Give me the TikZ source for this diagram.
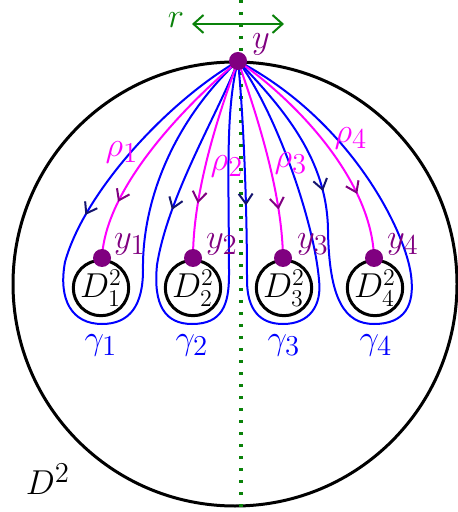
\documentclass[tikz,border=0pt]{standalone}
\usetikzlibrary{arrows.meta,decorations.markings}
\definecolor{myblue}{RGB}{0,0,255}
\definecolor{mymag}{RGB}{255,0,255}
\definecolor{mypurple}{RGB}{128,0,128}
\definecolor{mynavy}{RGB}{20,20,110}
\definecolor{mygreen}{RGB}{10,130,10}
\begin{document}
\begin{tikzpicture}[x=0.5pt,y=-0.5pt,
  lbl/.style={font=\fontsize{19}{22}\selectfont, inner sep=0pt},
  loopline/.style={myblue, line width=1pt},
  rholine/.style={mymag, line width=1pt},
  barbmark/.style 2 args={postaction={decorate}, decoration={markings,
      mark=at position #1 with {\arrow{Straight Barb[length=5pt,width=7pt,line width=1pt,color=#2]}}}},
  disk/.style={circle, draw=black, line width=1.5pt, minimum size=27pt, inner sep=0pt, font=\fontsize{18}{21}\selectfont},
  pdot/.style={circle, fill=mypurple, minimum size=9pt, inner sep=0pt}
]
\useasboundingbox (0,0) rectangle (457,512);
% big disk
\draw[black, line width=1.5pt] (235,284) circle[radius=111pt];
\node[lbl] (D) at (48,479) {$D^2$};
% vertical dotted line
\coordinate (vt) at (241,0);
\coordinate (vb) at (241,512);
\draw[mygreen, line width=1.7pt, dash pattern=on 1.7pt off 4.3pt] (vt) -- (vb);
% r arrow
\coordinate (ra) at (192,24);
\coordinate (rb) at (284,24);
\draw[mygreen, line width=1pt, {Straight Barb[length=5pt,width=9pt]}-{Straight Barb[length=5pt,width=9pt]}] (ra) -- (rb);
\node[lbl, text=mygreen] (rl) at (176,20) {$r$};
% base point
\coordinate (Y) at (238,61);
% small disks
\node[disk] (D1) at (101,288) {$D_1^2$};
\node[disk] (D2) at (193,288) {$D_2^2$};
\node[disk] (D3) at (284,288) {$D_3^2$};
\node[disk] (D4) at (375,288) {$D_4^2$};
\coordinate (y1) at (102,258);
\coordinate (y2) at (193,258);
\coordinate (y3) at (283,258);
\coordinate (y4) at (374,258);
% loops gamma
\draw[loopline] (Y) .. controls (170,100) and (85,190) .. (65,262)
  .. controls (58,300) and (72,324) .. (102,324)
  .. controls (130,324) and (143,305) .. (143,270)
  .. controls (142,205) and (170,125) .. (Y);
\path[barbmark={0.81}{mynavy}] (Y) .. controls (170,100) and (85,190) .. (65,262);
\draw[loopline] (Y) .. controls (220,110) and (168,195) .. (157,265)
  .. controls (153,305) and (165,324) .. (192,324)
  .. controls (222,324) and (229,305) .. (229,275)
  .. controls (229,180) and (225,110) .. (Y);
\path[barbmark={0.74}{mynavy}] (Y) .. controls (220,110) and (168,195) .. (157,265);
\draw[loopline] (Y) .. controls (243,110) and (247,200) .. (247,280)
  .. controls (247,310) and (260,324) .. (283,324)
  .. controls (310,324) and (322,305) .. (319,280)
  .. controls (314,220) and (275,110) .. (Y);
\path[barbmark={0.66}{mynavy}] (Y) .. controls (243,110) and (247,200) .. (247,280);
\draw[loopline] (Y) .. controls (285,110) and (327,160) .. (328,230)
  .. controls (329,300) and (345,324) .. (374,324)
  .. controls (405,324) and (415,305) .. (411,275)
  .. controls (405,230) and (350,120) .. (Y);
\path[barbmark={0.8}{mynavy}] (Y) .. controls (285,110) and (327,160) .. (328,230);
% rho paths
\draw[rholine, barbmark={0.76}{mypurple}] (Y) .. controls (180,110) and (105,190) .. (y1);
\draw[rholine, barbmark={0.73}{mypurple}] (Y) .. controls (220,110) and (193,190) .. (y2);
\draw[rholine, barbmark={0.76}{mypurple}] (Y) .. controls (255,110) and (282,190) .. (y3);
\draw[rholine, barbmark={0.73}{mypurple}] (Y) .. controls (295,100) and (372,180) .. (y4);
% dots
\node[pdot] (Yd) at (Y) {};
\node[pdot] (y1d) at (y1) {};
\node[pdot] (y2d) at (y2) {};
\node[pdot] (y3d) at (y3) {};
\node[pdot] (y4d) at (y4) {};
% labels
\node[lbl, text=mypurple] (yl) at (261,44) {$y$};
\node[lbl, text=mypurple] (y1l) at (130,244) {$y_1$};
\node[lbl, text=mypurple] (y2l) at (222,244) {$y_2$};
\node[lbl, text=mypurple] (y3l) at (313,244) {$y_3$};
\node[lbl, text=mypurple] (y4l) at (403,244) {$y_4$};
\node[lbl, text=mymag] (r1l) at (122,152) {$\rho_1$};
\node[lbl, text=mymag] (r2l) at (227,166) {$\rho_2$};
\node[lbl, text=mymag] (r3l) at (291,163) {$\rho_3$};
\node[lbl, text=mymag] (r4l) at (351,138) {$\rho_4$};
\node[lbl, text=myblue] (g1l) at (101,345) {$\gamma_1$};
\node[lbl, text=myblue] (g2l) at (192,345) {$\gamma_2$};
\node[lbl, text=myblue] (g3l) at (284,345) {$\gamma_3$};
\node[lbl, text=myblue] (g4l) at (376,345) {$\gamma_4$};
\end{tikzpicture}
\end{document}
